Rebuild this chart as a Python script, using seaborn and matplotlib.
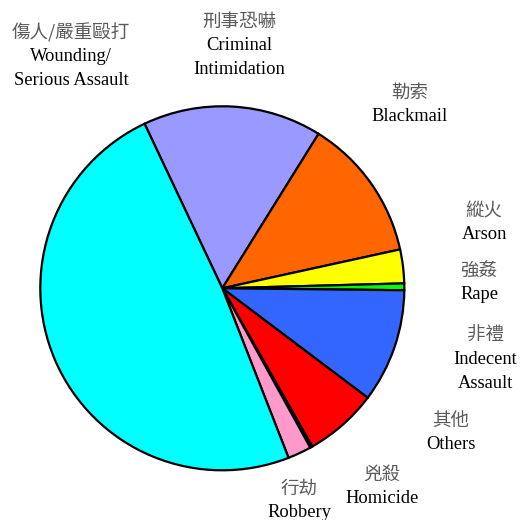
"""
Violent crime breakdown pie chart (Chinese / English labels)
"""

import matplotlib
matplotlib.use("Agg")
import matplotlib.pyplot as plt
import seaborn as sns

sns.set_theme(style="white")
plt.rcParams["font.family"] = ["Liberation Serif", "Noto Sans CJK TC", "DejaVu Sans"]

# ---- data (share of cases, %) -------------------------------------------
labels_zh = ["刑事恐嚇", "勒索", "縱火", "強姦", "非禮", "其他", "兇殺", "行劫", "傷人/嚴重毆打"]
labels_en = ["Criminal\nIntimidation", "Blackmail", "Arson", "Rape", "Indecent\nAssault",
             "Others", "Homicide", "Robbery", "Wounding/\nSerious Assault"]
shares    = [15.9, 12.7, 3.0, 0.6, 10.1, 6.5, 0.2, 2.1, 48.9]
colors    = ["#9999FF", "#FF6600", "#FFFF00", "#00FF00", "#3366FF",
             "#FF0000", "#000000", "#FF99CC", "#00FFFF"]

# label anchor positions in pixels (x centre, y of Chinese line centre)
label_px = [(239, 22), (410, 93), (484, 211), (479, 271), (485, 336),
            (451, 421), (382, 475), (299, 489), (71, 33)]

W = H = 520
fig = plt.figure(figsize=(5.2, 5.2), dpi=100)
fig.patch.set_facecolor("white")

ax = fig.add_axes([0.0775, 0.0956, 0.70, 0.70])
wedges, _ = ax.pie(shares, colors=colors, startangle=115.3, counterclock=False,
                   wedgeprops=dict(edgecolor="black", linewidth=1.6))
for w in wedges:
    w.set_clip_on(False)
ax.set_xlim(-1, 1)
ax.set_ylim(-1, 1)
ax.set_aspect("equal")
ax.axis("off")

LINE = 24  # px between lines
for zh, en, (px, py) in zip(labels_zh, labels_en, label_px):
    fig.text(px / W, 1 - py / H, zh, ha="center", va="center", fontsize=13.3,
             color="#5a5a5a", family=["Noto Sans CJK TC", "DejaVu Sans"])
    for i, line in enumerate(en.split("\n")):
        yb = py + 4 + LINE * (i + 1)
        fig.text(px / W, 1 - yb / H, line, ha="center", va="baseline",
                 fontsize=13.3, color="black", family="Liberation Serif")

fig.savefig("out.png", dpi=100, facecolor="white")
